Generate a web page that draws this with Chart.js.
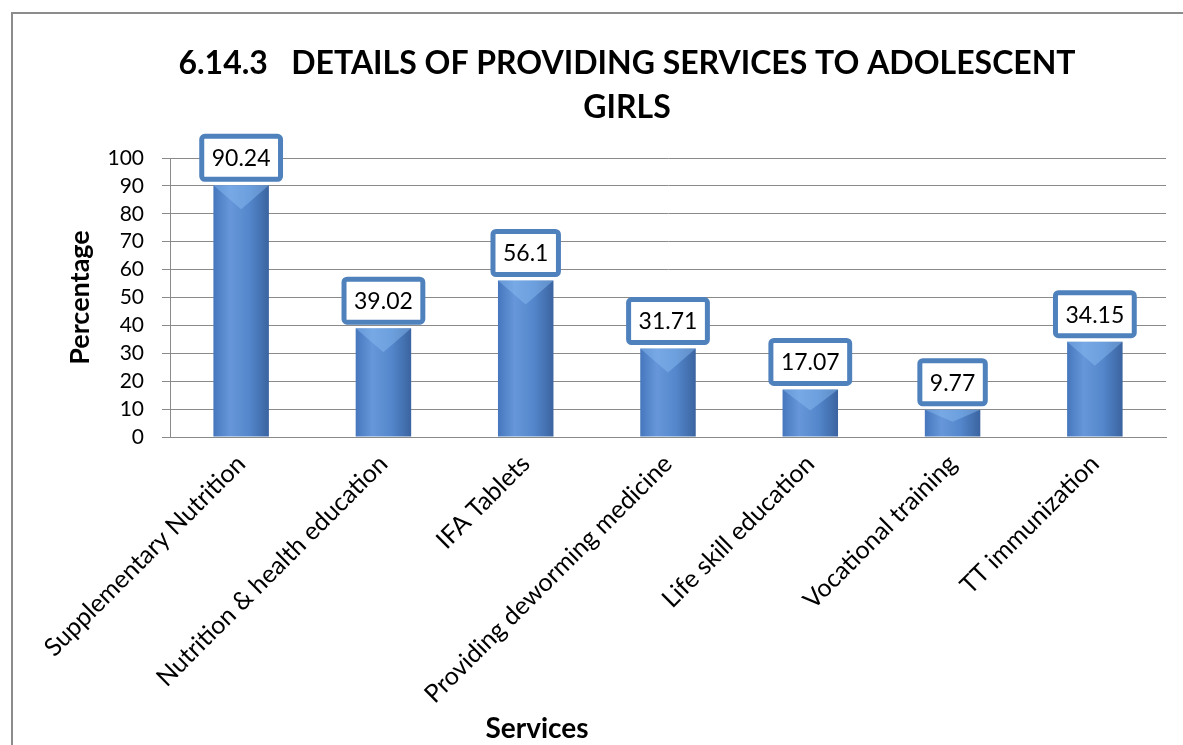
<!DOCTYPE html>
<html>
<head>
<meta charset="utf-8">
<script src="https://cdn.jsdelivr.net/npm/chart.js@4.4.1/dist/chart.umd.min.js"></script>
<style>
  body { margin: 0; background: #fff; }
  #frame { position: absolute; left: 11px; top: 12px; width: 1200px; height: 800px; border: 2px solid #8c8c8c; }
  #wrap { position: absolute; left: 0; top: 0; width: 1183px; height: 745px; }
</style>
</head>
<body>
<div id="frame"></div>
<div id="wrap"><canvas id="myChart" width="1183" height="745"></canvas></div>
<script>
// data
const services = ["Supplementary Nutrition", "Nutrition & health education", "IFA Tablets",
  "Providing deworming medicine", "Life skill education", "Vocational training", "TT immunization"];
const percentages = [90.24, 39.02, 56.1, 31.71, 17.07, 9.77, 34.15];
const valueLabels = ["90.24", "39.02", "56.1", "31.71", "17.07", "9.77", "34.15"];

const FONT = "Lato, 'Open Sans', sans-serif";

// bar fill: horizontal gradient to look like the 3D column
function barFill(context) {
  const chart = context.chart;
  if (!chart.chartArea || !chart.scales.x) return "#4f81bd";
  const x = chart.scales.x.getPixelForValue(context.dataIndex);
  const w = chart.scales.x.width / services.length * 0.39;
  const g = chart.ctx.createLinearGradient(x - w / 2, 0, x + w / 2, 0);
  g.addColorStop(0, "#4677bd");
  g.addColorStop(0.3, "#6797da");
  g.addColorStop(0.65, "#5386cb");
  g.addColorStop(1, "#3b64a0");
  return g;
}

// lighter "V" at the top of every column, like the cone top in the original
const barTops = {
  id: "barTops",
  afterDatasetsDraw(chart) {
    const ctx = chart.ctx;
    const meta = chart.getDatasetMeta(0);
    ctx.save();
    meta.data.forEach((bar) => {
      const half = bar.width / 2;
      const depth = Math.min(24, (bar.base - bar.y) * 0.45);
      ctx.beginPath();
      ctx.moveTo(bar.x - half, bar.y);
      ctx.lineTo(bar.x + half, bar.y);
      ctx.lineTo(bar.x, bar.y + depth);
      ctx.closePath();
      ctx.fillStyle = "rgba(140,190,245,0.45)";
      ctx.fill();
    });
    ctx.restore();
  }
};

// boxed value labels above each bar + the x axis title
const boxLabels = {
  id: "boxLabels",
  afterDraw(chart) {
    const ctx = chart.ctx;
    const meta = chart.getDatasetMeta(0);
    ctx.save();
    ctx.font = "23px " + FONT;
    ctx.textAlign = "center";
    ctx.textBaseline = "middle";
    meta.data.forEach((bar, i) => {
      const txt = valueLabels[i];
      const w = ctx.measureText(txt).width + 20;
      const h = 43;
      const bottom = bar.y - 6;
      const x = bar.x - w / 2;
      const y = bottom - h;
      ctx.beginPath();
      ctx.roundRect(x, y, w, h, 3);
      ctx.fillStyle = "#fff";
      ctx.fill();
      ctx.lineWidth = 5;
      ctx.strokeStyle = "#4f81bd";
      ctx.stroke();
      ctx.fillStyle = "#000";
      ctx.fillText(txt, bar.x, y + h / 2 + 1);
    });
    // axis title "Services"
    ctx.font = "bold 28px " + FONT;
    ctx.textBaseline = "alphabetic";
    ctx.fillText("Services", 537, 738);
    ctx.restore();
  }
};

const ctx = document.getElementById("myChart");

new Chart(ctx, {
  type: "bar",
  data: {
    labels: services,
    datasets: [{
      label: "Percentage",
      data: percentages,
      backgroundColor: barFill,
      borderWidth: 0,
      categoryPercentage: 1,
      barPercentage: 0.39
    }]
  },
  options: {
    responsive: false,
    animation: false,
    layout: { padding: { left: 88, right: 17, top: 0, bottom: 0 } },
    plugins: {
      legend: { display: false },
      tooltip: { enabled: false },
      title: {
        display: true,
        text: ["6.14.3   DETAILS OF PROVIDING SERVICES TO ADOLESCENT", "GIRLS"],
        color: "#000",
        font: { family: FONT, size: 32, weight: "bold", lineHeight: 1.36 },
        padding: { top: 42, bottom: 29 }
      }
    },
    scales: {
      x: {
        grid: { display: false },
        border: { display: true, color: "#8a8a8a", width: 1 },
        ticks: {
          color: "#000",
          font: { family: FONT, size: 25 },
          maxRotation: 45,
          minRotation: 45,
          autoSkip: false,
          padding: 4
        },
        afterFit: (s) => { s.height = 745 - 437; }
      },
      y: {
        min: 0,
        max: 100,
        ticks: {
          stepSize: 10,
          autoSkip: false,
          color: "#000",
          font: { family: FONT, size: 21 },
          padding: 18
        },
        grid: { color: "#8a8a8a", lineWidth: 1, tickLength: 8 },
        border: { display: true, color: "#8a8a8a", width: 1 },
        title: {
          display: true,
          text: "Percentage",
          color: "#000",
          font: { family: FONT, size: 27, weight: "bold" },
          padding: { top: -24, bottom: 0 }
        },
        afterFit: (s) => { s.width = 82; }
      }
    }
  },
  plugins: [barTops, boxLabels]
});
</script>
</body>
</html>
